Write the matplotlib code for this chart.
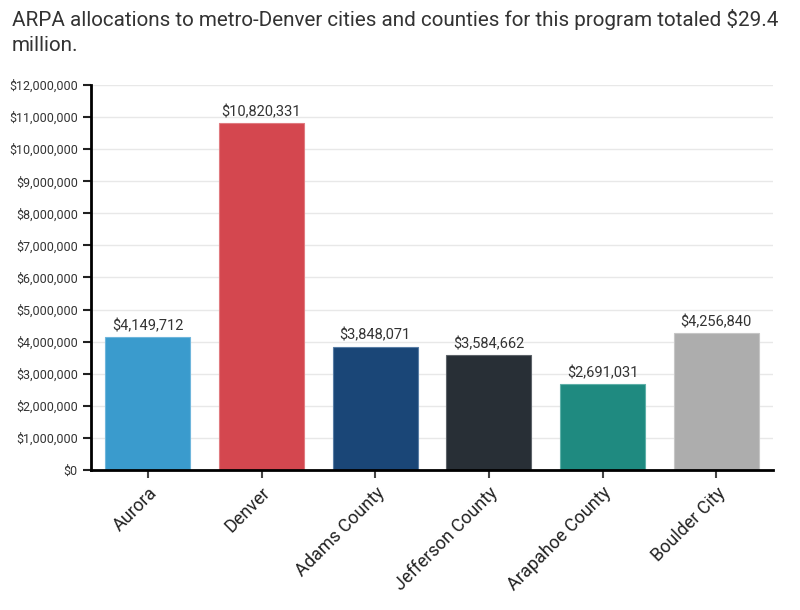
import matplotlib
matplotlib.use('Agg')
import matplotlib.pyplot as plt
from matplotlib.ticker import FuncFormatter

plt.rcParams['font.family'] = ['Roboto', 'DejaVu Sans']

places = ['Aurora', 'Denver', 'Adams County', 'Jefferson County', 'Arapahoe County', 'Boulder City']
amounts = [4149712, 10820331, 3848071, 3584662, 2691031, 4256840]
colors = ['#3a9bcd', '#d4474f', '#1a4677', '#282f36', '#1f8a80', '#adadad']
edges = ['#6fb6dc', '#e07b80', '#587da5', '#5d6369', '#5fb0a8', '#c6c6c6']
yticks = list(range(0, 12000001, 1000000))

fig = plt.figure(figsize=(8, 6.1), dpi=100)
ax = fig.add_axes([0.11375, 0.2295, 0.8525, 0.6312])

x = range(len(places))
ax.bar(x, amounts, width=0.75, color=colors, edgecolor=edges, linewidth=0.8, zorder=3)
for i, v in enumerate(amounts):
    ax.text(i, v + 120000, '\\${:,}'.format(v), ha='center', va='bottom',
            fontsize=10.5, color='#333333', zorder=4)

ax.set_xlim(-0.5, len(places) - 0.5)
ax.set_ylim(0, 12000000)
ax.set_yticks(yticks)
ax.yaxis.set_major_formatter(FuncFormatter(lambda v, p: '${:,.0f}'.format(v)))
ax.grid(axis='y', color='#e8e8e8', linewidth=1, zorder=0)
ax.set_xticks(list(x))
ax.set_xticklabels(places, rotation=45, ha='right', rotation_mode='anchor',
                   fontsize=13, color='#222222')

for s in ['top', 'right']:
    ax.spines[s].set_visible(False)
ax.spines['left'].set_linewidth(2)
ax.spines['bottom'].set_linewidth(2)
ax.spines['left'].set_zorder(5)
ax.spines['bottom'].set_zorder(5)
ax.tick_params(axis='y', labelsize=9, colors='#333333', length=6, width=1.5)
ax.tick_params(axis='y', color='#222222')
ax.tick_params(axis='x', length=6, width=1.5, color='#444444', pad=4)

fig.text(0.015, 0.985, 'ARPA allocations to metro-Denver cities and counties for this program totaled \\$29.4\nmillion.',
         fontsize=14.9, color='#333333', va='top', ha='left', linespacing=1.4)

fig.savefig('out.png', dpi=100)
